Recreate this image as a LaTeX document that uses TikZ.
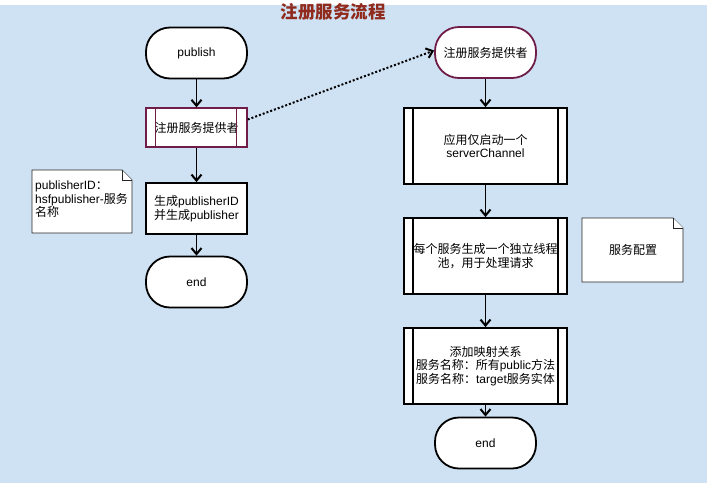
\documentclass[tikz,border=0pt]{standalone}
\usepackage{fontspec}
\setmainfont{Liberation Sans}
\newfontfamily\cjk{Noto Sans CJK SC}
\usetikzlibrary{arrows.meta,calc}
\newcommand\zh[1]{{\cjk #1}}
\definecolor{bg}{HTML}{CFE2F3}
\definecolor{plum}{HTML}{6F1D48}
\definecolor{titlered}{HTML}{8F2A1C}
\begin{document}
\begin{tikzpicture}[x=1pt,y=-1pt,
  font=\fontsize{12}{13.5}\selectfont,
  term/.style={draw, line width=1.8pt, fill=white, rounded corners=24pt,
    minimum width=101pt, minimum height=51pt, inner sep=0pt},
  proc/.style={draw, line width=1.8pt, fill=white,
    minimum width=163pt, minimum height=76pt, inner sep=0pt, align=center},
  plainbox/.style={draw, line width=1.8pt, fill=white,
    minimum width=101pt, minimum height=51pt, inner sep=0pt, align=left},
  notebox/.style={draw=black!85, line width=0.8pt, fill=white},
  arr/.style={line width=1.8pt, -{Straight Barb[length=6pt,width=10pt,line width=2pt]}},
  dotarr/.style={line width=2pt, dash pattern=on 2pt off 2pt,
    -{Straight Barb[length=6pt,width=10pt,line width=2pt]}},
]
\useasboundingbox (0,0) rectangle (707,483);
\fill[white] (0,0) rectangle (707,5);
\fill[bg] (0,5) rectangle (707,483);

% title
\node[text=titlered, font=\fontsize{17.5}{18}\selectfont\cjk\bfseries] (title) at (333,12) {注册服务流程};

% left column
\node[term] (pub) at (196.5,53) {publish};
\node[draw=plum, line width=1.4pt, fill=white, minimum width=101pt,
  minimum height=39pt, inner sep=0pt] (lreg) at (196.5,127.5) {\zh{注册服务提供者}};
\draw[plum, line width=1.4pt] ($(lreg.north west)+(10,0)$) -- ($(lreg.south west)+(10,0)$)
  ($(lreg.north east)+(-11,0)$) -- ($(lreg.south east)+(-11,0)$);
\node[plainbox] (gen) at (196.5,208.5) {\zh{生成}publisherID\\\zh{并生成}publisher};
\node[term] (lend) at (196.5,282) {end};

% left note
\draw[notebox] (32,170) -- (122,170) -- (132,180) -- (132,233) -- (32,233) -- cycle;
\draw[notebox] (122,170) -- (122,180) -- (132,180);
\node[anchor=north west, inner sep=0pt, align=left] (n1) at (35,181)
  {publisherID\zh{：}\\hsfpublisher-\zh{服务}\\\zh{名称}};

% right column
\node[term, draw=plum] (rreg) at (485.5,52.5) {\zh{注册服务提供者}};
\node[proc] (b1) at (485.5,146) {\zh{应用仅启动一个}\\serverChannel};
\node[proc] (b2) at (485.5,256) {\zh{每个服务生成一个独立线程}\\\zh{池，用于处理请求}};
\node[proc] (b3) at (485.5,366) {\zh{添加映射关系}\\\zh{服务名称：所有}public\zh{方法}\\\zh{服务名称：}target\zh{服务实体}};
\node[term] (rend) at (485.5,443) {end};
\foreach \b in {b1,b2,b3}{
  \draw[line width=1.8pt] ($(\b.north west)+(10,0)$) -- ($(\b.south west)+(10,0)$)
    ($(\b.north east)+(-10,0)$) -- ($(\b.south east)+(-10,0)$);
}

% right note
\draw[notebox] (582,218) -- (673,218) -- (683,228) -- (683,282) -- (582,282) -- cycle;
\draw[notebox] (673,218) -- (673,228) -- (683,228);
\node (n2) at (633,250) {\zh{服务配置}};

% connectors
\draw[arr] (pub) -- (lreg);
\draw[arr] (lreg) -- (gen);
\draw[arr] (gen) -- (lend);
\draw[arr] (rreg) -- (b1);
\draw[arr] (b1) -- (b2);
\draw[arr] (b2) -- (b3);
\draw[arr] (b3) -- (rend);
\draw[dotarr] ($(lreg.east)+(0,-8)$) -- ($(rreg.west)+(0,-2)$);
\end{tikzpicture}
\end{document}
